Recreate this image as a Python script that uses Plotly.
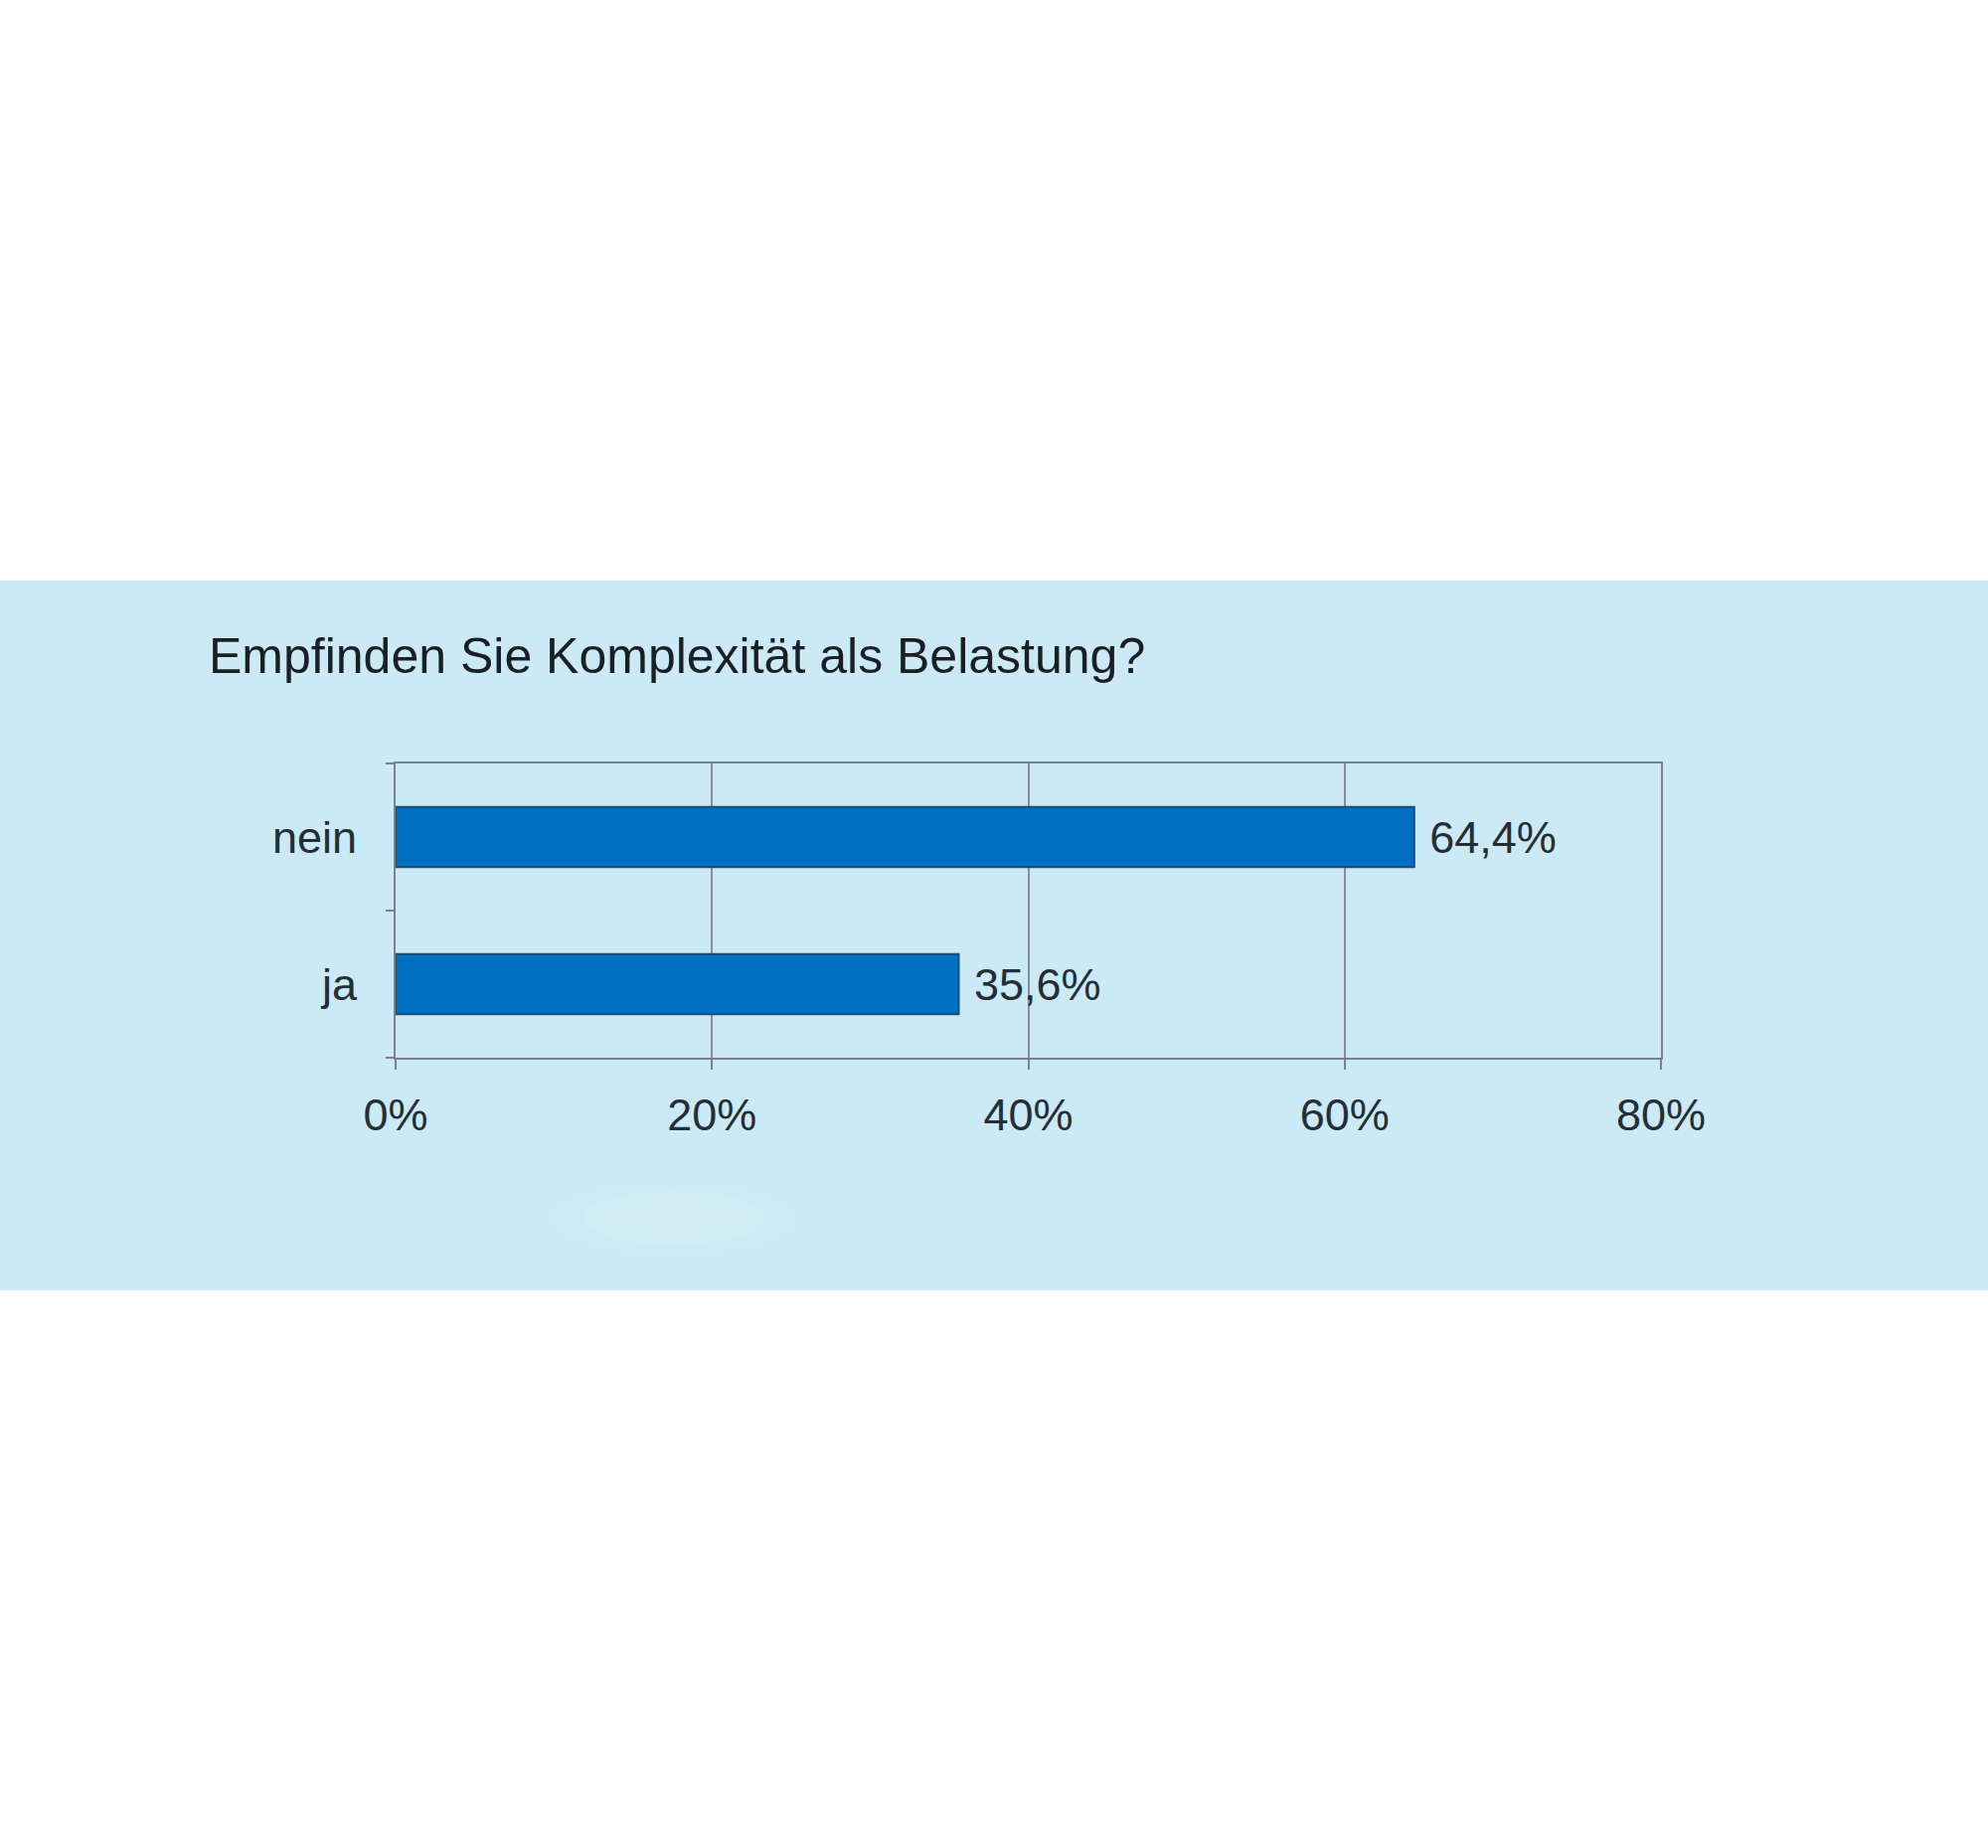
import plotly.graph_objects as go

categories = ["ja", "nein"]
values = [35.6, 64.4]
x_ticks = [0, 20, 40, 60, 80]
x_tick_labels = ["0%", "20%", "40%", "60%", "80%"]
title_text = "Empfinden Sie Komplexität als Belastung?"

W, H = 2000, 1859
L, R, T, B = 398, 2000 - 1671, 768, 1859 - 1064
PW, PH = W - L - R, H - T - B

def px_x(x):
    return (x - L) / PW

def px_y(y):
    return (H - B - y) / PH

labels = ["\u00a0" + f"{v:.1f}%".replace(".", ",") for v in values]

FONT = "Liberation Sans, Arial, sans-serif"
TXT = "#232e37"

fig = go.Figure(go.Bar(
    x=values, y=categories, orientation="h",
    marker=dict(color="#0070c0", line=dict(color="#1d4a7a", width=2)),
    text=labels, textposition="outside", cliponaxis=False,
    textfont=dict(family=FONT, size=45, color=TXT),
    width=0.41,
))

band_color = "#cbeaf5"
fig.add_shape(type="rect", xref="paper", yref="paper",
              x0=px_x(0), x1=px_x(W), y0=px_y(1298), y1=px_y(584),
              fillcolor=band_color, line=dict(width=0), layer="below")
# faint, soft light patch in the band
for (x0, x1, y0, y1) in [(555, 800, 1262, 1190), (585, 770, 1252, 1198), (615, 740, 1242, 1206)]:
    fig.add_shape(type="circle", xref="paper", yref="paper",
                  x0=px_x(x0), x1=px_x(x1), y0=px_y(y0), y1=px_y(y1),
                  fillcolor="white", opacity=0.06, line=dict(width=0), layer="below")

fig.add_annotation(text=title_text, xref="paper", yref="paper",
                   x=px_x(208), y=px_y(660), xanchor="left", yanchor="middle",
                   showarrow=False,
                   font=dict(family=FONT, size=50, color="#1a1f25"))

fig.update_layout(
    width=W, height=H,
    margin=dict(l=L, r=R, t=T, b=B),
    paper_bgcolor="white", plot_bgcolor="rgba(0,0,0,0)",
    showlegend=False,
    font=dict(family=FONT, size=45, color=TXT),
    xaxis=dict(range=[0, 80], tickvals=x_ticks, ticktext=x_tick_labels,
               showgrid=True, gridcolor="#86909a", gridwidth=1.5,
               showline=True, linecolor="#7a8389", linewidth=2, mirror=True,
               ticks="outside", ticklen=10, tickcolor="#7a8389", tickwidth=2,
               ticklabelstandoff=7, zeroline=False, fixedrange=True),
    yaxis=dict(categoryorder="array", categoryarray=categories,
               range=[-0.5, 1.5],
               showline=True, linecolor="#7a8389", linewidth=2, mirror=True,
               ticks="outside", tickson="boundaries", ticklen=8,
               tickcolor="#7a8389", tickwidth=2, showgrid=False,
               ticklabelstandoff=28, fixedrange=True),
)

fig.write_html("out.html")
